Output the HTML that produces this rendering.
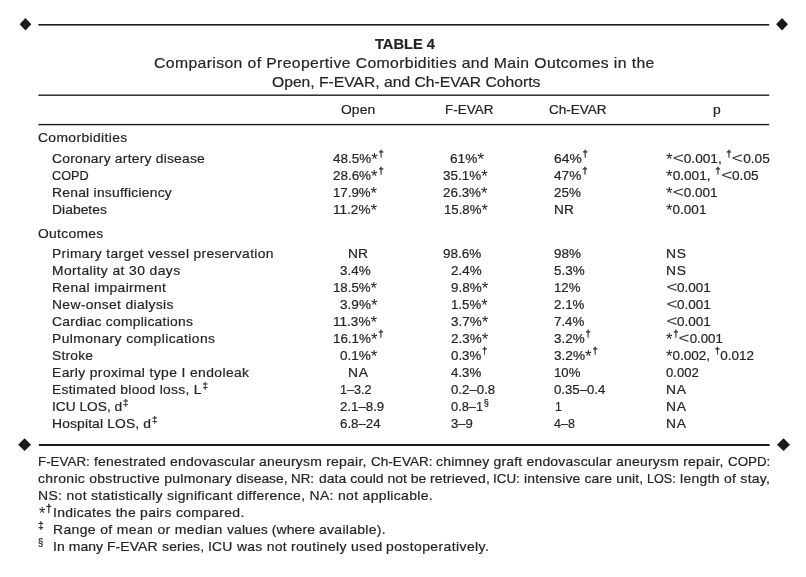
<!DOCTYPE html>
<html><head><meta charset="utf-8"><title>Table 4</title><style>
html,body{margin:0;padding:0;background:#fff;}
body{width:806px;height:577px;position:relative;overflow:hidden;font-family:"Liberation Sans", Arial, sans-serif;color:#242424;}
.t{position:absolute;white-space:pre;transform-origin:0 0;line-height:20px;height:20px;-webkit-text-stroke:0.2px #242424;}
.s{font-size:71%;position:relative;top:-0.62em;letter-spacing:0;-webkit-text-stroke:0.3px #242424;display:inline-block;margin:0 0.3px 0 0.8px;line-height:0;}
.sf{font-size:78%;top:-0.46em;}
.sd{top:-0.50em;-webkit-text-stroke:0.25px #242424;}
.sn{margin:0;-webkit-text-stroke:0.2px #242424;}
.as{font-size:125%;position:relative;top:0.14em;line-height:0;-webkit-text-stroke:0;letter-spacing:0;}
.af{font-size:130%;position:relative;top:0.13em;line-height:0;-webkit-text-stroke:0;letter-spacing:0;}
.lt{display:inline-block;transform:scale(1.4,1.1);transform-origin:50% 65%;margin:0 1.5px;-webkit-text-stroke:0;color:#3a3a3a;letter-spacing:0;line-height:0;}
.b{font-weight:bold;}
svg{position:absolute;left:0;top:0;}
</style></head>
<body>
<svg width="806" height="577" viewBox="0 0 806 577">
<g fill="#1a1a1a">
<rect x="38.4" y="24.0" width="730.8" height="1.6"/>
<rect x="38.4" y="94.5" width="730.8" height="1.4"/>
<rect x="38.4" y="123.9" width="730.8" height="1.4"/>
<rect x="38.9" y="444.0" width="730.7" height="2.0"/>
<polygon points="19.6,24.3 25.45,18.1 31.3,24.3 25.45,30.5"/>
<polygon points="776.1,24.3 782.05,18.1 788,24.3 782.05,30.5"/>
<polygon points="18.2,444.7 24.6,438.3 31.0,444.7 24.6,451.1"/>
<polygon points="777,444.7 783.5,438.3 790,444.7 783.5,451.1"/>
</g></svg>
<span class="t b" style="left:374.50px;top:34.00px;font-size:14px;letter-spacing:0.000px;transform:scaleX(1.0472)">TABLE 4</span>
<span class="t" style="left:153.83px;top:53.00px;font-size:15px;letter-spacing:0.364px;transform:scaleX(1.0500)">Comparison of Preopertive Comorbidities and Main Outcomes in the</span>
<span class="t" style="left:272.19px;top:72.00px;font-size:15px;letter-spacing:0.000px;transform:scaleX(1.0440)">Open, F-EVAR, and Ch-EVAR Cohorts</span>
<span class="t" style="left:341.16px;top:100.00px;font-size:13.2px;letter-spacing:0.079px;transform:scaleX(1.0500)">Open</span>
<span class="t" style="left:444.64px;top:100.00px;font-size:13.2px;letter-spacing:0.000px;transform:scaleX(1.0216)">F-EVAR</span>
<span class="t" style="left:548.94px;top:100.00px;font-size:13.2px;letter-spacing:0.000px;transform:scaleX(1.0254)">Ch-EVAR</span>
<span class="t" style="left:713.27px;top:100.00px;font-size:13.2px;letter-spacing:0.000px;transform:scaleX(1.0500)">p</span>
<span class="t" style="left:38.22px;top:128.00px;font-size:13.2px;letter-spacing:0.355px;transform:scaleX(1.0500)">Comorbidities</span>
<span class="t" style="left:38.26px;top:224.00px;font-size:13.2px;letter-spacing:0.274px;transform:scaleX(1.0500)">Outcomes</span>
<span class="t" style="left:52.12px;top:149.00px;font-size:13.2px;letter-spacing:0.219px;transform:scaleX(1.0500)">Coronary artery disease</span>
<span class="t" style="left:52.17px;top:166.00px;font-size:13.2px;letter-spacing:0.000px;transform:scaleX(0.9634)">COPD</span>
<span class="t" style="left:51.61px;top:183.00px;font-size:13.2px;letter-spacing:0.242px;transform:scaleX(1.0500)">Renal insufficiency</span>
<span class="t" style="left:51.61px;top:200.00px;font-size:13.2px;letter-spacing:0.036px;transform:scaleX(1.0500)">Diabetes</span>
<span class="t" style="left:51.61px;top:244.00px;font-size:13.2px;letter-spacing:0.329px;transform:scaleX(1.0500)">Primary target vessel preservation</span>
<span class="t" style="left:51.61px;top:261.00px;font-size:13.2px;letter-spacing:0.404px;transform:scaleX(1.0500)">Mortality at 30 days</span>
<span class="t" style="left:51.61px;top:278.00px;font-size:13.2px;letter-spacing:0.345px;transform:scaleX(1.0500)">Renal impairment</span>
<span class="t" style="left:51.61px;top:295.00px;font-size:13.2px;letter-spacing:0.329px;transform:scaleX(1.0500)">New-onset dialysis</span>
<span class="t" style="left:52.12px;top:312.00px;font-size:13.2px;letter-spacing:0.262px;transform:scaleX(1.0500)">Cardiac complications</span>
<span class="t" style="left:51.61px;top:329.00px;font-size:13.2px;letter-spacing:0.393px;transform:scaleX(1.0500)">Pulmonary complications</span>
<span class="t" style="left:51.88px;top:346.00px;font-size:13.2px;letter-spacing:0.190px;transform:scaleX(1.0500)">Stroke</span>
<span class="t" style="left:51.61px;top:363.00px;font-size:13.2px;letter-spacing:0.378px;transform:scaleX(1.0500)">Early proximal type I endoleak</span>
<span class="t" style="left:51.61px;top:380.00px;font-size:13.2px;letter-spacing:0.273px;transform:scaleX(1.0500)">Estimated blood loss, L<span class="s sd">‡</span></span>
<span class="t" style="left:51.90px;top:397.00px;font-size:13.2px;letter-spacing:0.000px;transform:scaleX(1.0412)">ICU LOS, d<span class="s sd">‡</span></span>
<span class="t" style="left:51.61px;top:414.00px;font-size:13.2px;letter-spacing:0.139px;transform:scaleX(1.0500)">Hospital LOS, d<span class="s sd">‡</span></span>
<span class="t" style="left:332.53px;top:149.00px;font-size:13.2px;letter-spacing:0.000px;transform:scaleX(1.0200)">48.5%<span class="as">*</span><span class="s">†</span></span>
<span class="t" style="left:332.67px;top:166.00px;font-size:13.2px;letter-spacing:0.000px;transform:scaleX(1.0173)">28.6%<span class="as">*</span><span class="s">†</span></span>
<span class="t" style="left:332.89px;top:183.00px;font-size:13.2px;letter-spacing:0.000px;transform:scaleX(1.0054)">17.9%<span class="as">*</span></span>
<span class="t" style="left:332.87px;top:200.00px;font-size:13.2px;letter-spacing:0.000px;transform:scaleX(1.0297)">11.2%<span class="as">*</span></span>
<span class="t" style="left:348.42px;top:244.00px;font-size:13.2px;letter-spacing:0.000px;transform:scaleX(1.0434)">NR</span>
<span class="t" style="left:339.58px;top:261.00px;font-size:13.2px;letter-spacing:0.000px;transform:scaleX(1.0218)">3.4%</span>
<span class="t" style="left:332.89px;top:278.00px;font-size:13.2px;letter-spacing:0.000px;transform:scaleX(1.0054)">18.5%<span class="as">*</span></span>
<span class="t" style="left:339.58px;top:295.00px;font-size:13.2px;letter-spacing:-0.000px;transform:scaleX(1.0307)">3.9%<span class="as">*</span></span>
<span class="t" style="left:332.87px;top:312.00px;font-size:13.2px;letter-spacing:0.000px;transform:scaleX(1.0297)">11.3%<span class="as">*</span></span>
<span class="t" style="left:332.89px;top:329.00px;font-size:13.2px;letter-spacing:0.000px;transform:scaleX(1.0129)">16.1%<span class="as">*</span><span class="s">†</span></span>
<span class="t" style="left:339.78px;top:346.00px;font-size:13.2px;letter-spacing:0.000px;transform:scaleX(1.0252)">0.1%<span class="as">*</span></span>
<span class="t" style="left:347.91px;top:363.00px;font-size:13.2px;letter-spacing:0.695px;transform:scaleX(1.0500)">NA</span>
<span class="t" style="left:339.64px;top:380.00px;font-size:13.2px;letter-spacing:0.000px;transform:scaleX(0.9587)">1–3.2</span>
<span class="t" style="left:339.68px;top:397.00px;font-size:13.2px;letter-spacing:0.000px;transform:scaleX(1.0041)">2.1–8.9</span>
<span class="t" style="left:339.64px;top:414.00px;font-size:13.2px;letter-spacing:0.000px;transform:scaleX(1.0064)">6.8–24</span>
<span class="t" style="left:449.73px;top:149.00px;font-size:13.2px;letter-spacing:-0.000px;transform:scaleX(1.0371)">61%<span class="as">*</span></span>
<span class="t" style="left:443.08px;top:166.00px;font-size:13.2px;letter-spacing:-0.000px;transform:scaleX(1.0195)">35.1%<span class="as">*</span></span>
<span class="t" style="left:443.17px;top:183.00px;font-size:13.2px;letter-spacing:0.000px;transform:scaleX(1.0175)">26.3%<span class="as">*</span></span>
<span class="t" style="left:443.90px;top:200.00px;font-size:13.2px;letter-spacing:0.000px;transform:scaleX(1.0007)">15.8%<span class="as">*</span></span>
<span class="t" style="left:443.14px;top:244.00px;font-size:13.2px;letter-spacing:0.000px;transform:scaleX(1.0211)">98.6%</span>
<span class="t" style="left:450.77px;top:261.00px;font-size:13.2px;letter-spacing:-0.000px;transform:scaleX(1.0189)">2.4%</span>
<span class="t" style="left:450.74px;top:278.00px;font-size:13.2px;letter-spacing:0.000px;transform:scaleX(1.0206)">9.8%<span class="as">*</span></span>
<span class="t" style="left:451.29px;top:295.00px;font-size:13.2px;letter-spacing:0.000px;transform:scaleX(1.0051)">1.5%<span class="as">*</span></span>
<span class="t" style="left:450.68px;top:312.00px;font-size:13.2px;letter-spacing:0.000px;transform:scaleX(1.0222)">3.7%<span class="as">*</span></span>
<span class="t" style="left:450.77px;top:329.00px;font-size:13.2px;letter-spacing:0.000px;transform:scaleX(1.0198)">2.3%<span class="as">*</span></span>
<span class="t" style="left:450.88px;top:346.00px;font-size:13.2px;letter-spacing:0.000px;transform:scaleX(1.0068)">0.3%<span class="s">†</span></span>
<span class="t" style="left:451.14px;top:363.00px;font-size:13.2px;letter-spacing:0.000px;transform:scaleX(1.0065)">4.3%</span>
<span class="t" style="left:450.88px;top:380.00px;font-size:13.2px;letter-spacing:0.000px;transform:scaleX(1.0053)">0.2–0.8</span>
<span class="t" style="left:450.90px;top:397.00px;font-size:13.2px;letter-spacing:0.000px;transform:scaleX(0.9718)">0.8–1<span class="s sd">§</span></span>
<span class="t" style="left:450.70px;top:414.00px;font-size:13.2px;letter-spacing:0.000px;transform:scaleX(0.9933)">3–9</span>
<span class="t" style="left:553.72px;top:149.00px;font-size:13.2px;letter-spacing:0.000px;transform:scaleX(1.0496)">64%<span class="s">†</span></span>
<span class="t" style="left:554.13px;top:166.00px;font-size:13.2px;letter-spacing:0.000px;transform:scaleX(1.0366)">47%<span class="s">†</span></span>
<span class="t" style="left:553.77px;top:183.00px;font-size:13.2px;letter-spacing:0.000px;transform:scaleX(1.0173)">25%</span>
<span class="t" style="left:553.82px;top:200.00px;font-size:13.2px;letter-spacing:0.000px;transform:scaleX(1.0376)">NR</span>
<span class="t" style="left:553.74px;top:244.00px;font-size:13.2px;letter-spacing:0.000px;transform:scaleX(1.0184)">98%</span>
<span class="t" style="left:553.92px;top:261.00px;font-size:13.2px;letter-spacing:0.000px;transform:scaleX(1.0171)">5.3%</span>
<span class="t" style="left:554.40px;top:278.00px;font-size:13.2px;letter-spacing:0.000px;transform:scaleX(1.0007)">12%</span>
<span class="t" style="left:554.07px;top:295.00px;font-size:13.2px;letter-spacing:-0.000px;transform:scaleX(1.0120)">2.1%</span>
<span class="t" style="left:554.11px;top:312.00px;font-size:13.2px;letter-spacing:0.000px;transform:scaleX(1.0107)">7.4%</span>
<span class="t" style="left:553.98px;top:329.00px;font-size:13.2px;letter-spacing:0.000px;transform:scaleX(1.0181)">3.2%<span class="s">†</span></span>
<span class="t" style="left:553.98px;top:346.00px;font-size:13.2px;letter-spacing:0.000px;transform:scaleX(1.0316)">3.2%<span class="as">*</span><span class="s">†</span></span>
<span class="t" style="left:554.40px;top:363.00px;font-size:13.2px;letter-spacing:0.000px;transform:scaleX(1.0007)">10%</span>
<span class="t" style="left:554.19px;top:380.00px;font-size:13.2px;letter-spacing:0.000px;transform:scaleX(1.0003)">0.35–0.4</span>
<span class="t" style="left:554.88px;top:397.00px;font-size:13.2px;letter-spacing:0.000px;transform:scaleX(0.9200)">1</span>
<span class="t" style="left:554.45px;top:414.00px;font-size:13.2px;letter-spacing:0.000px;transform:scaleX(0.9476)">4–8</span>
<span class="t" style="left:666.12px;top:149.00px;font-size:13.2px;letter-spacing:0.000px;transform:scaleX(1.0361)"><span class="as">*</span><span class="lt">&lt;</span>0.001, <span class="s">†</span><span class="lt">&lt;</span>0.05</span>
<span class="t" style="left:666.12px;top:166.00px;font-size:13.2px;letter-spacing:0.000px;transform:scaleX(1.0349)"><span class="as">*</span>0.001, <span class="s">†</span><span class="lt">&lt;</span>0.05</span>
<span class="t" style="left:666.13px;top:183.00px;font-size:13.2px;letter-spacing:0.000px;transform:scaleX(1.0293)"><span class="as">*</span><span class="lt">&lt;</span>0.001</span>
<span class="t" style="left:666.13px;top:200.00px;font-size:13.2px;letter-spacing:0.000px;transform:scaleX(1.0246)"><span class="as">*</span>0.001</span>
<span class="t" style="left:665.71px;top:244.00px;font-size:13.2px;letter-spacing:0.645px;transform:scaleX(1.0500)">NS</span>
<span class="t" style="left:665.71px;top:261.00px;font-size:13.2px;letter-spacing:0.645px;transform:scaleX(1.0500)">NS</span>
<span class="t" style="left:665.82px;top:278.00px;font-size:13.2px;letter-spacing:-0.000px;transform:scaleX(1.0254)"><span class="lt">&lt;</span>0.001</span>
<span class="t" style="left:665.82px;top:295.00px;font-size:13.2px;letter-spacing:-0.000px;transform:scaleX(1.0254)"><span class="lt">&lt;</span>0.001</span>
<span class="t" style="left:665.82px;top:312.00px;font-size:13.2px;letter-spacing:-0.000px;transform:scaleX(1.0254)"><span class="lt">&lt;</span>0.001</span>
<span class="t" style="left:666.34px;top:329.00px;font-size:13.2px;letter-spacing:0.000px;transform:scaleX(1.0080)"><span class="as">*</span><span class="s">†</span><span class="lt">&lt;</span>0.001</span>
<span class="t" style="left:666.33px;top:346.00px;font-size:13.2px;letter-spacing:0.000px;transform:scaleX(1.0230)"><span class="as">*</span>0.002, <span class="s">†</span>0.012</span>
<span class="t" style="left:666.39px;top:363.00px;font-size:13.2px;letter-spacing:0.000px;transform:scaleX(0.9910)">0.002</span>
<span class="t" style="left:665.71px;top:380.00px;font-size:13.2px;letter-spacing:0.695px;transform:scaleX(1.0500)">NA</span>
<span class="t" style="left:665.71px;top:397.00px;font-size:13.2px;letter-spacing:0.695px;transform:scaleX(1.0500)">NA</span>
<span class="t" style="left:665.71px;top:414.00px;font-size:13.2px;letter-spacing:0.695px;transform:scaleX(1.0500)">NA</span>
<span class="t" style="left:37.64px;top:452.00px;font-size:13.3px;letter-spacing:0.000px;transform:scaleX(1.0059)">F-EVAR: </span>
<span class="t" style="left:93.97px;top:452.00px;font-size:13.3px;letter-spacing:0.184px;transform:scaleX(1.0500)">fenestrated endovascular </span>
<span class="t" style="left:259.19px;top:452.00px;font-size:13.3px;letter-spacing:0.215px;transform:scaleX(1.0500)">aneurysm repair, </span>
<span class="t" style="left:370.84px;top:452.00px;font-size:13.3px;letter-spacing:0.000px;transform:scaleX(1.0196)">Ch-EVAR: </span>
<span class="t" style="left:436.22px;top:452.00px;font-size:13.3px;letter-spacing:0.190px;transform:scaleX(1.0500)">chimney graft endovascular </span>
<span class="t" style="left:616.19px;top:452.00px;font-size:13.3px;letter-spacing:0.215px;transform:scaleX(1.0500)">aneurysm repair, </span>
<span class="t" style="left:727.85px;top:452.00px;font-size:13.3px;letter-spacing:0.000px;transform:scaleX(1.0037)">COPD:</span>
<span class="t" style="left:38.22px;top:469.00px;font-size:13.3px;letter-spacing:0.281px;transform:scaleX(1.0500)">chronic obstructive pulmonary </span>
<span class="t" style="left:236.43px;top:469.00px;font-size:13.3px;letter-spacing:0.000px;transform:scaleX(1.0407)">disease, </span>
<span class="t" style="left:291.25px;top:469.00px;font-size:13.3px;letter-spacing:-0.000px;transform:scaleX(1.0034)">NR: </span>
<span class="t" style="left:318.52px;top:469.00px;font-size:13.3px;letter-spacing:0.015px;transform:scaleX(1.0500)">data could not be </span>
<span class="t" style="left:429.54px;top:469.00px;font-size:13.3px;letter-spacing:0.166px;transform:scaleX(1.0500)">retrieved, </span>
<span class="t" style="left:493.12px;top:469.00px;font-size:13.3px;letter-spacing:0.000px;transform:scaleX(1.0067)">ICU: </span>
<span class="t" style="left:524.06px;top:469.00px;font-size:13.3px;letter-spacing:0.141px;transform:scaleX(1.0500)">intensive care unit, </span>
<span class="t" style="left:647.20px;top:469.00px;font-size:13.3px;letter-spacing:0.000px;transform:scaleX(0.9500)">LOS: </span>
<span class="t" style="left:679.76px;top:469.00px;font-size:13.3px;letter-spacing:0.278px;transform:scaleX(1.0500)">length of stay,</span>
<span class="t" style="left:37.60px;top:486.00px;font-size:13.3px;letter-spacing:0.310px;transform:scaleX(1.0500)">NS: not statistically significant difference, NA: not applicable.</span>
<span class="t" style="left:38.74px;top:503.00px;font-size:13.3px;letter-spacing:0.000px;transform:scaleX(0.9325)"><span class="af">*</span></span>
<span class="t" style="left:44.87px;top:503.00px;font-size:13.3px;letter-spacing:1.500px;transform:scaleX(1.0500)"><span class="s sf">†</span></span>
<span class="t" style="left:52.77px;top:503.00px;font-size:13.3px;letter-spacing:0.277px;transform:scaleX(1.0500)">Indicates the pairs compared.</span>
<span class="t" style="left:38.19px;top:520.00px;font-size:13.3px;letter-spacing:0.000px;transform:scaleX(0.9995)"><span class="s sf sn">‡</span></span>
<span class="t" style="left:52.50px;top:520.00px;font-size:13.3px;letter-spacing:0.344px;transform:scaleX(1.0500)">Range of mean or median </span>
<span class="t" style="left:227.44px;top:520.00px;font-size:13.3px;letter-spacing:0.082px;transform:scaleX(1.0500)">values (where </span>
<span class="t" style="left:319.09px;top:520.00px;font-size:13.3px;letter-spacing:0.278px;transform:scaleX(1.0500)">available).</span>
<span class="t" style="left:38.23px;top:537.00px;font-size:13.3px;letter-spacing:0.000px;transform:scaleX(0.9200)"><span class="s sf sn">§</span></span>
<span class="t" style="left:52.87px;top:537.00px;font-size:13.3px;letter-spacing:0.058px;transform:scaleX(1.0500)">In many F-EVAR </span>
<span class="t" style="left:162.15px;top:537.00px;font-size:13.3px;letter-spacing:0.154px;transform:scaleX(1.0500)">series, </span>
<span class="t" style="left:207.67px;top:537.00px;font-size:13.3px;letter-spacing:0.086px;transform:scaleX(1.0500)">ICU </span>
<span class="t" style="left:237.13px;top:537.00px;font-size:13.3px;letter-spacing:0.249px;transform:scaleX(1.0500)">was not </span>
<span class="t" style="left:290.54px;top:537.00px;font-size:13.3px;letter-spacing:0.317px;transform:scaleX(1.0500)">routinely used </span>
<span class="t" style="left:386.36px;top:537.00px;font-size:13.3px;letter-spacing:0.387px;transform:scaleX(1.0500)">postoperatively.</span>
</body></html>
